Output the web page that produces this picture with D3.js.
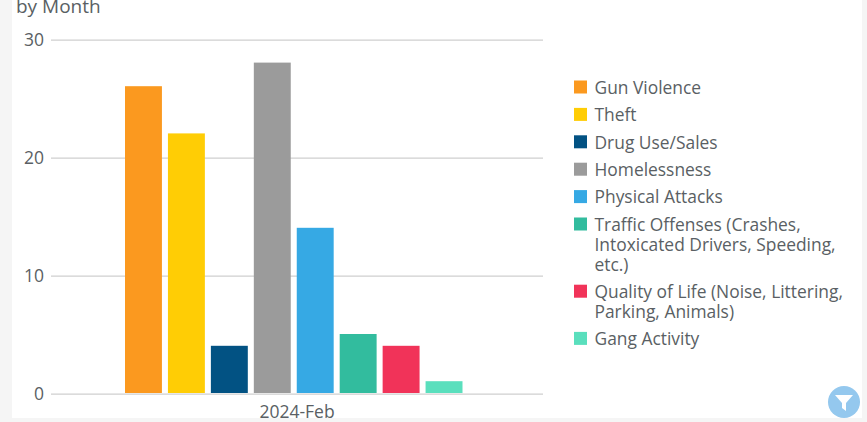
<!DOCTYPE html>
<html>
<head>
<meta charset="utf-8">
<script src="https://cdn.jsdelivr.net/npm/d3@7"></script>
<style>
  html, body { margin: 0; padding: 0; background: #f5f5f5; overflow: hidden; }
  svg { display: block; font-family: "Open Sans", sans-serif; }
</style>
</head>
<body>
<div id="chart"></div>
<script>
// Data
var categories = ["2024-Feb"];
var seriesNames = ["Gun Violence", "Theft", "Drug Use/Sales", "Homelessness", "Physical Attacks",
  "Traffic Offenses (Crashes, Intoxicated Drivers, Speeding, etc.)",
  "Quality of Life (Noise, Littering, Parking, Animals)", "Gang Activity"];
var seriesValues = [26, 22, 4, 28, 14, 5, 4, 1];
var seriesColors = ["#fb991f", "#ffcd05", "#025283", "#9b9b9b", "#36a9e4", "#32bc9e", "#f13359", "#5adfbd"];
var legendLines = [["Gun Violence"], ["Theft"], ["Drug Use/Sales"], ["Homelessness"], ["Physical Attacks"],
  ["Traffic Offenses (Crashes,", "Intoxicated Drivers, Speeding,", "etc.)"],
  ["Quality of Life (Noise, Littering,", "Parking, Animals)"], ["Gang Activity"]];
var yTicks = [0, 10, 20, 30];

var w = 867, h = 422;
var textColor = "#5a5f64";

var svg = d3.select("#chart").append("svg").attr("width", w).attr("height", h);

// White card behind the chart
svg.append("rect").attr("x", 12).attr("y", -5).attr("width", 850).attr("height", 423).attr("fill", "#fff");

svg.append("text").attr("x", 16).attr("y", 13).attr("font-size", 19).attr("fill", textColor).text("by Month");

// Scales
var y = d3.scaleLinear().domain([0, 30]).range([393, 39]);
var x0 = d3.scaleBand().domain(categories).range([51, 543]);
var x1 = d3.scaleBand().domain(seriesNames)
    .range([x0(categories[0]) + 74, x0(categories[0]) + 411.5])
    .paddingInner(0.14).paddingOuter(0).align(0);

// Y axis with gridlines
var yAxis = d3.axisLeft(y).tickValues(yTicks).tickSize(0).tickPadding(7);
var yg = svg.append("g").attr("transform", "translate(51,0.6)").call(yAxis);
yg.attr("font-family", null).attr("font-size", null);
yg.select(".domain").remove();
yg.selectAll("text").attr("font-size", 17.5).attr("fill", textColor);
yg.selectAll(".tick").append("line")
    .attr("x1", 0).attr("x2", 492).attr("stroke", "#cfcfcf").attr("stroke-width", 1.2);

// X axis
var xg = svg.append("g").attr("transform", "translate(0,393)").call(d3.axisBottom(x0).tickSize(0).tickPadding(13));
xg.attr("font-family", null).attr("font-size", null);
xg.select(".domain").remove();
xg.selectAll("text").attr("font-size", 17.5).attr("fill", textColor);

// Bars
svg.append("g").selectAll("rect")
    .data(seriesValues)
    .enter()
    .append("rect")
    .attr("x", function (d, i) { return x1(seriesNames[i]); })
    .attr("y", function (d) { return y(d); })
    .attr("width", x1.bandwidth())
    .attr("height", function (d) { return y(0) - y(d); })
    .attr("fill", function (d, i) { return seriesColors[i]; });

// Legend
var lineH = 20, legendY = 87;
legendLines.forEach(function (lines, i) {
  var g = svg.append("g").attr("transform", "translate(574," + legendY + ")");
  g.append("rect").attr("x", 0).attr("y", -6.5).attr("width", 13).attr("height", 13).attr("fill", seriesColors[i]);
  lines.forEach(function (t, j) {
    g.append("text").attr("x", 20.5).attr("y", 6.8 + j * lineH).attr("font-size", 17.4).attr("fill", textColor).text(t);
  });
  legendY += lines.length > 1 ? (lines.length * lineH + 7.2) : 27.4;
});

// Filter button
var btn = svg.append("g").attr("transform", "translate(844,402)");
btn.append("circle").attr("r", 16).attr("fill", "#94c8ee");
btn.append("path").attr("d", "M-9,-7 H9 L2,1 V9 L-2,6 V1 Z").attr("fill", "#fff");
</script>
</body>
</html>
